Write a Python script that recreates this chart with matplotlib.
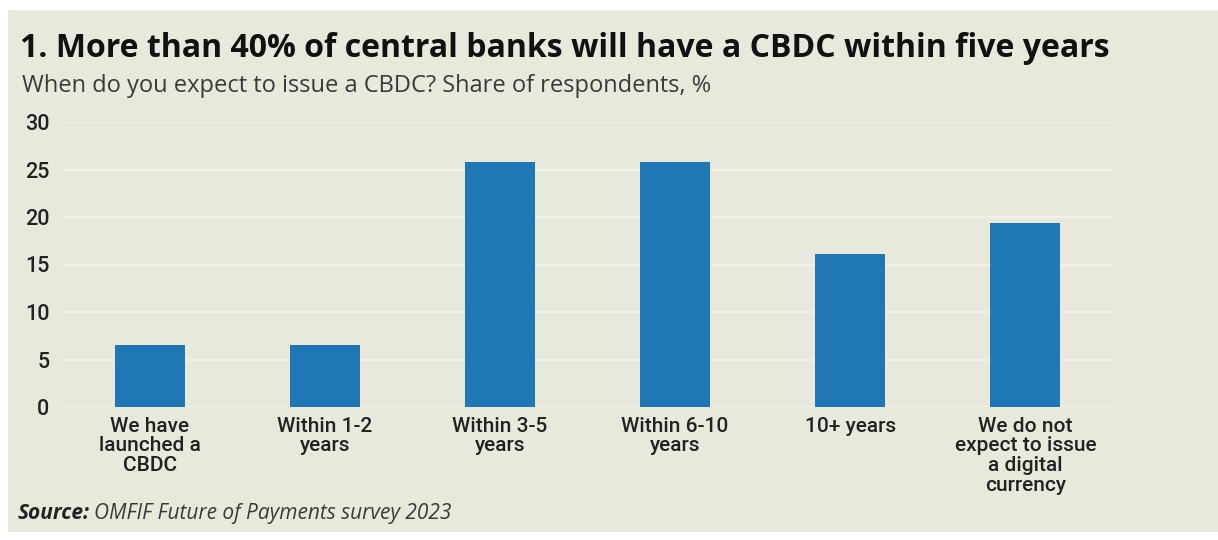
import matplotlib.pyplot as plt
from matplotlib.patches import Rectangle

# data
categories = ["We have\nlaunched a\nCBDC", "Within 1-2\nyears", "Within 3-5\nyears",
              "Within 6-10\nyears", "10+ years",
              "We do not\nexpect to issue\na digital\ncurrency"]
shares = [6.5, 6.5, 25.8, 25.8, 16.1, 19.4]
yticks = [0, 5, 10, 15, 20, 25, 30]

bg = "#E9E8DD"

fig = plt.figure(figsize=(12.18, 5.4), dpi=100)
fig.patch.set_facecolor("white")
fig.patches.append(Rectangle((8 / 1218, 8 / 540), 1 - 8 / 1218, 522 / 540,
                             transform=fig.transFigure, facecolor=bg,
                             edgecolor="none", zorder=-10))

ax = fig.add_axes([62 / 1218, 1 - 407 / 540, (1113 - 62) / 1218, (407 - 122) / 540])
ax.set_facecolor("none")
ax.bar(range(len(shares)), shares, width=0.4, color="#1F77B4", zorder=3)
ax.set_xlim(-0.5, len(shares) - 0.5)
ax.set_ylim(0, 30)
ax.set_yticks(yticks)
ax.set_yticklabels([str(t) for t in yticks], fontsize=15.5, family="Roboto",
                   fontweight="medium", color="#222222")
ax.set_xticks(range(len(shares)))
ax.set_xticklabels(categories, fontsize=15, family="Roboto", fontweight="medium",
                   color="#222222", linespacing=1.05, va="top")
ax.tick_params(axis="both", length=0)
ax.tick_params(axis="y", pad=9)
ax.tick_params(axis="x", pad=7)
ax.grid(axis="y", color="#F3F2EC", linewidth=1.2, zorder=0)
for s in ax.spines.values():
    s.set_visible(False)

fig.text(20 / 1218, 1 - 57 / 540, "1. More than 40% of central banks will have a CBDC within five years",
         fontsize=23, fontweight="bold", family="Open Sans", color="#111111")
fig.text(22 / 1218, 1 - 92 / 540, "When do you expect to issue a CBDC? Share of respondents, %",
         fontsize=17, family="Open Sans", color="#3a3a3a")

src = fig.text(18 / 1218, 1 - 519 / 540, "Source:", fontsize=15, fontweight="bold",
               style="italic", family="Open Sans", color="#222222")
fig.canvas.draw()
bb = src.get_window_extent()
fig.text(bb.x1 / 1218 + 4 / 1218, 1 - 519 / 540, "OMFIF Future of Payments survey 2023",
         fontsize=15, style="italic", family="Open Sans", color="#3a3a3a")

fig.savefig("out.png", dpi=100, facecolor=fig.get_facecolor())
